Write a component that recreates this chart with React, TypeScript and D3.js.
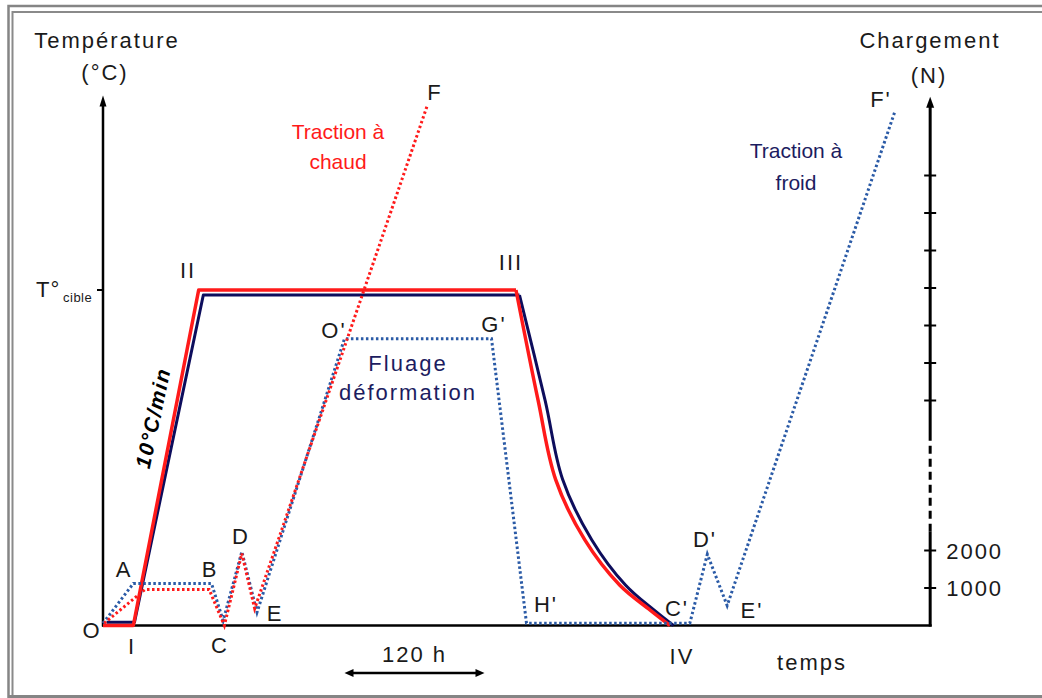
import React from 'react';
import * as d3 from 'd3';

const W = 1042;
const H = 698;

// ---- data: time in hours, temperature in % of T°cible, load in N
const redHeating: [number, number][] = [[0, 0], [26, 0], [82, 100], [354, 100]];
const redCooling: [number, number][] = [[354, 100], [373, 67], [388, 43.5], [413, 25.5], [443, 12], [469, 4.6], [486, 0]];
const navyHeating: [number, number][] = [[3, 1], [27, 1], [86, 98.5], [357, 98.5]];
const navyCooling: [number, number][] = [[357, 98.5], [379, 67], [394, 43.5], [419, 25.5], [448, 12], [473, 4.4], [489, 0]];
const hotLoad: [number, number][] = [[1, 60], [36, 960], [91, 960], [104, 0], [119, 1920], [130, 450], [278, 13870]];
const coldLoad: [number, number][] = [[0, 60], [26, 1120], [93, 1120], [103, 130], [119, 1970], [132, 350], [207, 7650], [333, 7650], [363, 60], [503, 60], [518, 1900], [535, 530], [679, 13730]];
const loadTicks = [1000, 2000, 6000, 7000, 8000, 9000, 10000, 11000, 12000];
const loadTickLabels = [1000, 2000];
const loadBreak: [number, number] = [2500, 5000];
const timeBar: [number, number] = [207, 327]; // 120 h
const timeMax = 709;
const tempMax = 158;
const loadMax = 14100;

const xs = d3.scaleLinear().domain([0, 120]).range([103, 243]);
const ts = d3.scaleLinear().domain([0, 100]).range([625.5, 290]);
const ls = d3.scaleLinear().domain([0, 1000]).range([625.5, 588]);

const tLine = d3.line<[number, number]>().x(d => xs(d[0])).y(d => ts(d[1]));
const tCurve = d3.line<[number, number]>().x(d => xs(d[0])).y(d => ts(d[1])).curve(d3.curveCatmullRom.alpha(0.5));
const lLine = d3.line<[number, number]>().x(d => xs(d[0])).y(d => ls(d[1]));

const FONT = '"Liberation Sans", Arial, sans-serif';
const RED = '#ff1a1a';
const NAVY = '#0d0d5c';
const BLUE = '#2a5aa6';
const TXT = '#1a1a1a';
const NAVYTXT = '#1c1c60';

export default function App() {
  const x0 = xs(0);
  const xR = xs(timeMax);
  const y0 = ts(0);
  const yTopL = ts(tempMax);
  const yTopR = ls(loadMax);
  const lbl = (t: string, x: number, y: number, extra: any = {}) => (
    <text key={t + x} x={x} y={y} textAnchor="middle" fontSize={22} letterSpacing={2} fill={TXT} {...extra}>{t}</text>
  );
  return (
    <svg width={W} height={H} style={{ position: 'absolute', left: 0, top: 0, background: '#fff' }} fontFamily={FONT}>
      <rect x={0} y={0} width={W} height={H} fill="#fff" />
      {/* frame */}
      <path d={`M8.5,${H} V6 H${W}`} fill="none" stroke="#858585" strokeWidth={2.5} />
      <path d={`M12.5,${H} V12 H${W}`} fill="none" stroke="#8a8a8a" strokeWidth={2} />
      <line x1={8} x2={W} y1={696.5} y2={696.5} stroke="#858585" strokeWidth={3} />

      {/* axes */}
      <line x1={x0} x2={x0} y1={y0 + 1} y2={yTopL + 8} stroke="#000" strokeWidth={2.5} />
      <polygon points={`${x0},${yTopL} ${x0 - 3.5},${yTopL + 11} ${x0 + 3.5},${yTopL + 11}`} fill="#000" />
      <line x1={x0 - 6} x2={x0} y1={ts(100)} y2={ts(100)} stroke="#000" strokeWidth={2} />
      <line x1={x0 - 1} x2={xR + 1.5} y1={y0} y2={y0} stroke="#000" strokeWidth={2.5} />
      <line x1={xR} x2={xR} y1={y0 + 1} y2={ls(loadBreak[0])} stroke="#000" strokeWidth={3} />
      <line x1={xR} x2={xR} y1={ls(loadBreak[0])} y2={ls(loadBreak[1])} stroke="#000" strokeWidth={3} strokeDasharray="8 5" />
      <line x1={xR} x2={xR} y1={ls(loadBreak[1])} y2={yTopR + 8} stroke="#000" strokeWidth={3} />
      <polygon points={`${xR},${yTopR} ${xR - 4},${yTopR + 11} ${xR + 4},${yTopR + 11}`} fill="#000" />
      {loadTicks.map(v => (
        <line key={v} x1={xR - 6} x2={xR + 6} y1={ls(v)} y2={ls(v)} stroke="#000" strokeWidth={2} />
      ))}
      {loadTickLabels.map(v => (
        <text key={'l' + v} x={xR + 16} y={ls(v) + 8} fontSize={22} letterSpacing={2} fill={TXT}>{v}</text>
      ))}

      {/* solid temperature curves */}
      <path d={tLine(navyHeating) || ''} fill="none" stroke={NAVY} strokeWidth={3} strokeLinejoin="round" />
      <path d={tCurve(navyCooling) || ''} fill="none" stroke={NAVY} strokeWidth={3} />
      <path d={tLine(redHeating) || ''} fill="none" stroke={RED} strokeWidth={3.5} strokeLinejoin="round" />
      <path d={tCurve(redCooling) || ''} fill="none" stroke={RED} strokeWidth={3.5} />

      {/* dotted load curves */}
      <path d={lLine(coldLoad) || ''} fill="none" stroke={BLUE} strokeWidth={3} strokeDasharray="2.5 2.5" />
      <path d={lLine(hotLoad) || ''} fill="none" stroke={RED} strokeWidth={3} strokeDasharray="2.5 2.5" />

      {/* 120 h bar */}
      <line x1={xs(timeBar[0]) + 6} x2={xs(timeBar[1]) - 6} y1={673} y2={673} stroke="#000" strokeWidth={2.5} />
      <polygon points={`${xs(timeBar[0])},673 ${xs(timeBar[0]) + 9},669 ${xs(timeBar[0]) + 9},677`} fill="#000" />
      <polygon points={`${xs(timeBar[1])},673 ${xs(timeBar[1]) - 9},669 ${xs(timeBar[1]) - 9},677`} fill="#000" />
      {lbl('120 h', (xs(timeBar[0]) + xs(timeBar[1])) / 2, 662)}

      {/* axis titles */}
      {lbl('Température', 107, 48)}
      {lbl('(°C)', 105, 80)}
      {lbl('Chargement', 930, 48)}
      {lbl('(N)', 929, 83)}
      {lbl('temps', 812, 670)}
      <text x={36} y={297} fontSize={22} letterSpacing={1} fill={TXT}>T°</text>
      <text x={63} y={302} fontSize={13} letterSpacing={0.5} fill={TXT}>cible</text>

      {/* point labels */}
      {lbl('O', 92, 638)}
      {lbl('I', 132, 654)}
      {lbl('A', 124, 577)}
      {lbl('B', 210, 577)}
      {lbl('C', 220, 653)}
      {lbl('D', 241, 544)}
      {lbl('E', 275, 621)}
      {lbl('II', 188, 278)}
      {lbl('III', 511, 270)}
      {lbl('F', 435, 100)}
      {lbl("O'", 334, 338)}
      {lbl("G'", 494, 332)}
      {lbl("H'", 546, 612)}
      {lbl("C'", 677, 616)}
      {lbl("D'", 705, 547)}
      {lbl("E'", 752, 618)}
      {lbl('IV', 682, 664)}
      {lbl("F'", 881, 107)}

      {/* annotations */}
      <text x={338} y={139} textAnchor="middle" fontSize={21} fill={RED}>Traction à</text>
      <text x={338} y={169} textAnchor="middle" fontSize={21} fill={RED}>chaud</text>
      <text x={796} y={158} textAnchor="middle" fontSize={21} fill={NAVYTXT}>Traction à</text>
      <text x={796} y={190} textAnchor="middle" fontSize={21} fill={NAVYTXT}>froid</text>
      <text x={408} y={371} textAnchor="middle" fontSize={22} letterSpacing={2} fill={NAVYTXT}>Fluage</text>
      <text x={408} y={400} textAnchor="middle" fontSize={22} letterSpacing={2} fill={NAVYTXT}>déformation</text>
      <text transform="translate(153,418) rotate(-78)" textAnchor="middle" dy="0.35em" fontSize={21} fontWeight="bold" fontStyle="italic" letterSpacing={1.5} fill="#000">10°C/min</text>
    </svg>
  );
}
